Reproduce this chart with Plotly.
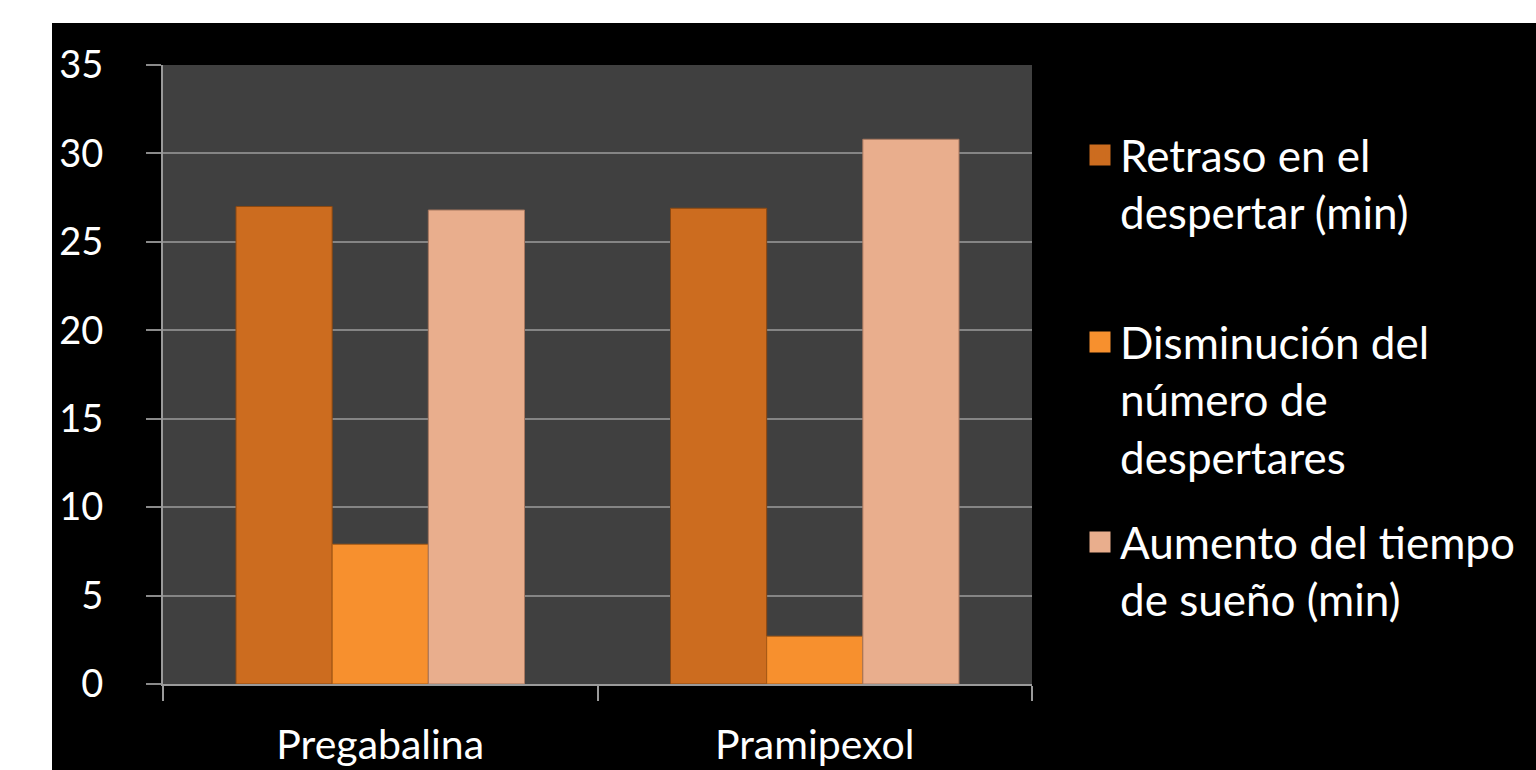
import plotly.graph_objects as go

categories = ["Pregabalina", "Pramipexol"]
series_names = [
    "Retraso en el<br>despertar (min)",
    "Disminución del<br>número de<br>despertares",
    "Aumento del tiempo<br>de sueño (min)",
]
retraso = [27.0, 26.9]
disminucion = [7.9, 2.7]
aumento = [26.8, 30.8]
y_ticks = [0, 5, 10, 15, 20, 25, 30, 35]

colors = ["#CC6C1F", "#F7902E", "#E9AE8D"]
edges = ["#8A4812", "#A85A15", "#A87860"]
values = [retraso, disminucion, aumento]

FONT = "Lato"
fig = go.Figure()
for i, (name, vals) in enumerate(zip(series_names, values)):
    fig.add_trace(go.Bar(
        x=categories, y=vals, name=name, showlegend=False,
        marker=dict(color=colors[i], line=dict(color=edges[i], width=1)),
    ))
# legend proxies (bigger swatches than bar legend symbols)
legends = ["legend", "legend2", "legend3"]
for i, name in enumerate(series_names):
    fig.add_trace(go.Scatter(
        x=[None], y=[None], mode="markers", name=name, legend=legends[i],
        marker=dict(symbol="square", size=16, color=colors[i],
                    line=dict(color=colors[i], width=5)),
    ))

L, R, T, B = 163, 1032, 65, 684
W, H = 1536, 770
pw, ph = R - L, B - T
def px(x): return (x - L) / pw
def py(y): return (B - y) / ph

leg_common = dict(font=dict(family=FONT, size=44, color="white"),
                  bgcolor="rgba(0,0,0,0)", xanchor="left", yanchor="top",
                  valign="top", itemsizing="trace")
fig.update_layout(
    width=W, height=H,
    margin=dict(l=L, r=W - R, t=T, b=H - B, pad=0, autoexpand=False),
    paper_bgcolor="white", plot_bgcolor="rgba(0,0,0,0)",
    barmode="group", bargap=0.336, bargroupgap=0,
    font=dict(family=FONT, color="white"),
    legend=dict(x=px(1080), y=py(120), **leg_common),
    legend2=dict(x=px(1080), y=py(307), **leg_common),
    legend3=dict(x=px(1080), y=py(507), **leg_common),
    shapes=[
        dict(type="rect", xref="paper", yref="paper", x0=px(52), x1=px(W + 5),
             y0=py(H + 5), y1=py(23), fillcolor="black", line=dict(width=0), layer="below"),
        dict(type="rect", xref="paper", yref="paper", x0=0, x1=1, y0=0, y1=1,
             fillcolor="#404040", line=dict(width=0), layer="below"),
    ],
)
fig.update_xaxes(
    automargin=False,
    showline=True, linecolor="#9a9a9a", linewidth=2,
    ticks="outside", tickson="boundaries", ticklen=15, tickcolor="#9a9a9a", tickwidth=2,
    tickfont=dict(family=FONT, size=41, color="white"),
    ticklabelstandoff=24, showgrid=False,
)
fig.update_yaxes(
    automargin=False,
    range=[0, 35], tickvals=y_ticks, showline=True, linecolor="#9a9a9a", linewidth=2,
    ticks="outside", ticklen=15, tickcolor="#8a8a8a", tickwidth=2,
    showgrid=True, gridcolor="#858585", gridwidth=2, zeroline=False,
    tickfont=dict(family=FONT, size=38, color="white"),
    ticklabelstandoff=35,
)
fig.write_html("out.html")
